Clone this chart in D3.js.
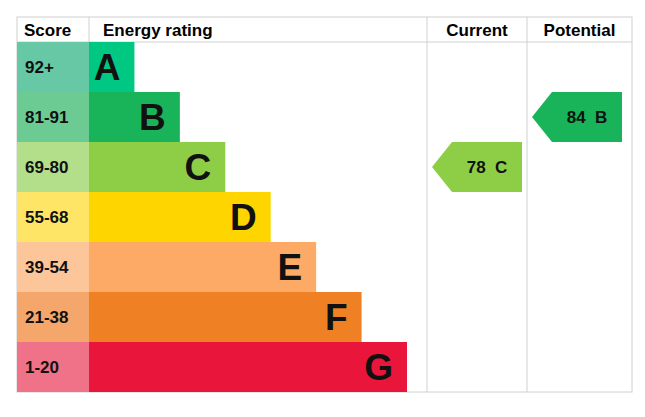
<!DOCTYPE html>
<html lang="en">
<head>
<meta charset="UTF-8">
<script src="https://d3js.org/d3.v7.min.js"></script>
<style>
  body { margin: 0; background: #fff; }
  text { font-family: "Liberation Sans", Arial, sans-serif; font-weight: bold; }
</style>
</head>
<body>
<svg width="645" height="417"></svg>
<script>
const bands = ["A", "B", "C", "D", "E", "F", "G"];
const scores = ["92+", "81-91", "69-80", "55-68", "39-54", "21-38", "1-20"];
const barColors = ["#00c781", "#19b459", "#8dce46", "#ffd500", "#fcaa65", "#ef8023", "#e9153b"];
const scoreColors = ["#66c8a5", "#6ccb93", "#b3de8a", "#ffe566", "#fdc59a", "#f4a66b", "#f07289"];
const barLengths = [1, 2, 3, 4, 5, 6, 7];
const ratings = [
  { column: "Current", value: 78, band: "C" },
  { column: "Potential", value: 84, band: "B" }
];

const svg = d3.select("svg");
const leftX = 17, rightX = 632, topY = 17, headH = 25, bottomY = 392;
const scoreW = 72;
const colX = { Current: 427, Potential: 527 };

const y = d3.scaleBand().domain(bands).range([topY + headH, bottomY]);
const x = d3.scaleLinear().domain([0, 7]).range([leftX + scoreW, 407]);

// grid
const grid = "#d0d0d0";
svg.append("rect").attr("x", leftX).attr("y", topY).attr("width", rightX - leftX)
  .attr("height", bottomY - topY).attr("fill", "none").attr("stroke", grid);
svg.append("line").attr("x1", leftX).attr("x2", rightX).attr("y1", topY + headH).attr("y2", topY + headH).attr("stroke", grid);
[leftX + scoreW, colX.Current, colX.Potential].forEach(cx =>
  svg.append("line").attr("x1", cx).attr("x2", cx).attr("y1", topY).attr("y2", bottomY).attr("stroke", grid));

// headers
const hy = topY + 19;
svg.append("text").attr("x", leftX + 7).attr("y", hy).attr("font-size", 17).text("Score");
svg.append("text").attr("x", leftX + scoreW + 14).attr("y", hy).attr("font-size", 17).text("Energy rating");
svg.append("text").attr("x", (colX.Current + colX.Potential) / 2).attr("y", hy).attr("font-size", 17)
  .attr("text-anchor", "middle").text("Current");
svg.append("text").attr("x", (colX.Potential + rightX) / 2).attr("y", hy).attr("font-size", 17)
  .attr("text-anchor", "middle").text("Potential");

// score cells
svg.selectAll(".score").data(bands).enter().append("rect")
  .attr("x", leftX).attr("y", d => y(d)).attr("width", scoreW).attr("height", y.bandwidth())
  .attr("fill", (d, i) => scoreColors[i]);
svg.selectAll(".scoreText").data(scores).enter().append("text")
  .attr("x", leftX + 8).attr("y", (d, i) => y(bands[i]) + y.bandwidth() / 2 + 6)
  .attr("font-size", 17).attr("fill", "#111").text(d => d);

// bars
svg.selectAll(".bar").data(bands).enter().append("rect")
  .attr("x", x(0)).attr("y", d => y(d)).attr("width", (d, i) => x(barLengths[i]) - x(0))
  .attr("height", y.bandwidth()).attr("fill", (d, i) => barColors[i]);
svg.selectAll(".barText").data(bands).enter().append("text")
  .attr("x", (d, i) => x(barLengths[i]) - 14).attr("y", d => y(d) + y.bandwidth() / 2 + 13)
  .attr("text-anchor", "end").attr("font-size", 37).attr("fill", "#111").text(d => d);

// rating arrows
ratings.forEach(r => {
  const x0 = colX[r.column] + 5, x1 = x0 + 90, tip = 20;
  const y0 = y(r.band), h = y.bandwidth();
  const col = barColors[bands.indexOf(r.band)];
  svg.append("path")
    .attr("d", `M${x0},${y0 + h / 2} L${x0 + tip},${y0} L${x1},${y0} L${x1},${y0 + h} L${x0 + tip},${y0 + h} Z`)
    .attr("fill", col);
  svg.append("text").attr("x", x0 + 55).attr("y", y0 + h / 2 + 6).attr("text-anchor", "middle")
    .attr("font-size", 17).attr("fill", "#111").style("white-space", "pre")
    .text(`${r.value}  ${r.band}`);
});
</script>
</body>
</html>
